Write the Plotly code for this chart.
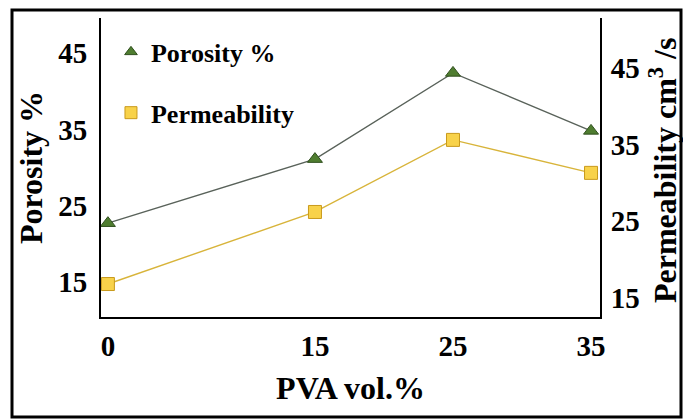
import plotly.graph_objects as go

pva = [0, 15, 25, 35]
porosity = [22.7, 31.1, 42.4, 34.8]
permeability = [16.8, 26.2, 35.6, 31.3]
y_ticks = [15, 25, 35, 45]
x_ticks = [0, 15, 25, 35]

FONT = "'Liberation Serif', 'Times New Roman', Times, serif"

fig = go.Figure()
fig.add_trace(go.Scatter(
    x=pva, y=porosity, mode="lines+markers", name="Porosity %",
    line=dict(color="#59625a", width=1.4),
    marker=dict(symbol="triangle-up", size=13, color="#4f7d30",
                line=dict(color="#2f4f1d", width=1)),
    showlegend=False, yaxis="y"))
fig.add_trace(go.Scatter(
    x=pva, y=permeability, mode="lines+markers", name="Permeability",
    line=dict(color="#d8b43a", width=1.4),
    marker=dict(symbol="square", size=13, color="#f8d24a",
                line=dict(color="#c99a1c", width=1)),
    showlegend=False, yaxis="y2"))
# legend entries (marker only)
fig.add_trace(go.Scatter(
    x=[None], y=[None], mode="markers", name="Porosity %",
    marker=dict(symbol="triangle-up", size=11, color="#4f7d30",
                line=dict(color="#2f4f1d", width=1)),
    legendgroup="a"))
fig.add_trace(go.Scatter(
    x=[None], y=[None], mode="markers", name="Permeability",
    marker=dict(symbol="square", size=12, color="#f8d24a",
                line=dict(color="#c99a1c", width=1)),
    legendgroup="b"))

axis_font = dict(family=FONT, size=29, color="black", weight="bold")
title_font = dict(family=FONT, size=32, color="black", weight="bold")

fig.update_layout(
    width=683, height=419,
    margin=dict(l=101, r=83, t=18, b=102),
    paper_bgcolor="white", plot_bgcolor="white",
    font=dict(family=FONT, color="black"),
    xaxis=dict(range=[-0.5, 35.65], tickvals=x_ticks, ticktext=[str(v) for v in x_ticks],
               showgrid=False, zeroline=False, showline=True, linecolor="black", linewidth=2,
               ticks="", tickfont=axis_font, ticklabelstandoff=2,
               title=dict(text="PVA vol.%", font=title_font, standoff=16)),
    yaxis=dict(range=[10.4, 49.6], tickvals=y_ticks, showgrid=False, zeroline=False,
               showline=True, linecolor="black", linewidth=2, ticks="",
               tickfont=axis_font, ticklabelstandoff=6,
               title=dict(text="Porosity %", font=title_font, standoff=6)),
    yaxis2=dict(range=[12.5, 51.5], tickvals=y_ticks, overlaying="y", side="right",
                showgrid=False, zeroline=False, showline=True, linecolor="black", linewidth=2,
                ticks="", tickfont=axis_font, ticklabelstandoff=3),
    legend=dict(x=0.02, y=0.965, xanchor="left", yanchor="top",
                font=dict(family=FONT, size=26, color="black", weight="bold"),
                bgcolor="rgba(0,0,0,0)", tracegroupgap=24, itemwidth=30),
    annotations=[dict(text="Permeability cm<sup>3</sup> /s", xref="paper", yref="paper",
                      x=(663 - 101) / 499, y=(317 - 171) / 299, xanchor="center",
                      yanchor="middle", textangle=-90, showarrow=False, font=title_font)],
    shapes=[dict(type="rect", xref="paper", yref="paper",
                 x0=-89 / 499, x1=580 / 499, y0=-100 / 299, y1=1 + 8 / 299,
                 line=dict(color="black", width=3))],
)

fig.write_html("out.html")
